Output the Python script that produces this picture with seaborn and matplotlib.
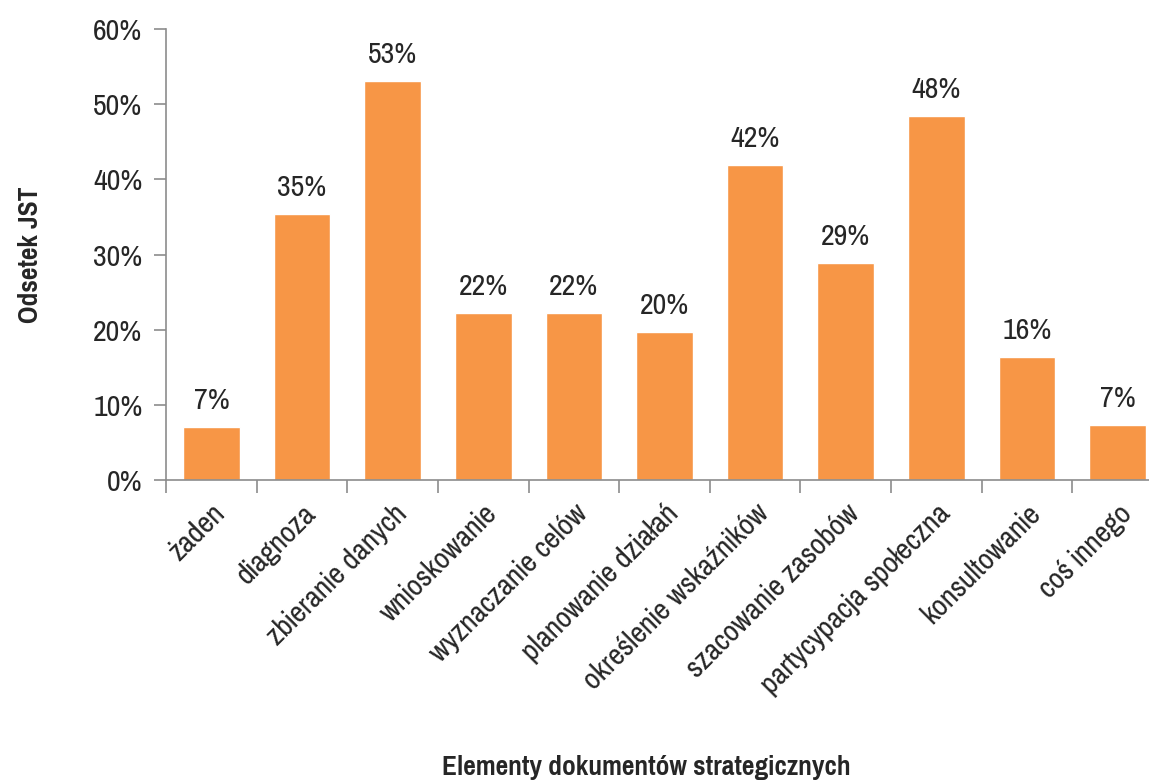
import matplotlib
matplotlib.use("Agg")
import matplotlib.pyplot as plt
import matplotlib.transforms as mtransforms
import seaborn as sns
import pandas as pd

# Data: share of local governments (JST) by element of strategic documents
categories = ["żaden", "diagnoza", "zbieranie danych", "wnioskowanie",
              "wyznaczanie celów", "planowanie działań", "określenie wskaźników",
              "szacowanie zasobów", "partycypacja społeczna", "konsultowanie",
              "coś innego"]
values = [7.05, 35.4, 53.1, 22.2, 22.2, 19.7, 41.9, 28.9, 48.4, 16.4, 7.3]
yticks = [0, 10, 20, 30, 40, 50, 60]

sns.set_theme(style="white")
plt.rcParams["font.family"] = ["Pragati Narrow", "Liberation Sans", "DejaVu Sans"]

df = pd.DataFrame({"element": categories, "share": values})

fig = plt.figure(figsize=(11.49, 7.8), dpi=100)
ax = fig.add_axes([166 / 1149, 1 - 480 / 780, (1163 - 166) / 1149, (480 - 29) / 780])

sns.barplot(data=df, x="element", y="share", color="#F79646", width=0.625,
            saturation=1, ax=ax)

ax.set_xlim(-0.5, len(categories) - 0.5)
ax.set_ylim(0, 60)
ax.set_yticks(yticks)
ax.set_yticklabels([f"{t}%" for t in yticks], fontsize=23.5)

# category labels at bar centres, tick marks at category boundaries
ax.set_xticks(range(len(categories)))
ax.set_xticklabels(categories, rotation=45, ha="right", rotation_mode="anchor",
                   fontsize=23.5)
shift = mtransforms.ScaledTranslation(-4 / 72, -3 / 72, fig.dpi_scale_trans)
for lbl in ax.get_xticklabels():
    lbl.set_transform(lbl.get_transform() + shift)
ax.set_xticks([i - 0.5 for i in range(len(categories) + 1)], minor=True)
ax.tick_params(axis="x", which="major", length=0, pad=14)
ax.tick_params(axis="x", which="minor", length=9, width=1.2, color="#8c8c8c",
               direction="out", bottom=True)
ax.tick_params(axis="y", which="major", length=9, width=1.2, color="#8c8c8c",
               direction="out", left=True, pad=8)

for side in ["top", "right"]:
    ax.spines[side].set_visible(False)
for side in ["left", "bottom"]:
    ax.spines[side].set_color("#8c8c8c")
    ax.spines[side].set_linewidth(1.2)

for i, v in enumerate(values):
    ax.annotate(f"{v:.0f}%", xy=(i, v), xytext=(0, 13), textcoords="offset points",
                ha="center", va="baseline", fontsize=23.5)

ax.set_xlabel("")
ax.set_ylabel("")
fig.text(30 / 1149, 1 - 255 / 780, "Odsetek JST", rotation=90, ha="center",
         va="center", fontsize=21.5, fontweight="bold")
fig.text(646 / 1149, 1 - 767 / 780, "Elementy dokumentów strategicznych",
         ha="center", va="center", fontsize=21.5, fontweight="bold")

fig.savefig("out.png", dpi=100)
